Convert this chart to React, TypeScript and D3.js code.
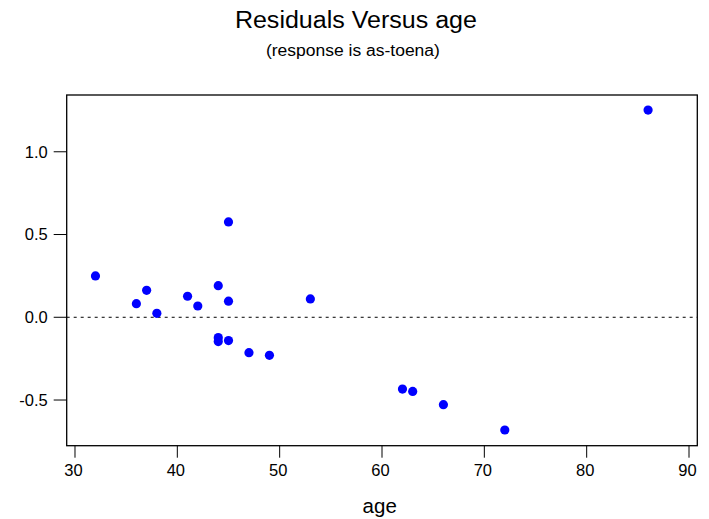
import React from "react";
import * as d3 from "d3";

const ages = [32, 36, 37, 38, 41, 42, 44, 44, 44, 45, 45, 45, 47, 49, 53, 62, 63, 66, 72, 86];
const residuals = [0.25, 0.082, 0.163, 0.024, 0.127, 0.068, 0.191, -0.123, -0.147, 0.576, 0.097, -0.141, -0.214, -0.23, 0.111, -0.434, -0.448, -0.528, -0.681, 1.252];
const xTicks = [30, 40, 50, 60, 70, 80, 90];
const yTicks = [-0.5, 0.0, 0.5, 1.0];
const title = "Residuals Versus age";
const subtitle = "(response is as-toena)";
const xLabel = "age";

const W = 709;
const H = 519;
const L = 66.7, R = 697.3, T = 95, B = 445.7;

export default function App() {
  const x = d3.scaleLinear().domain([29.19, 90.81]).range([L, R]);
  const y = d3.scaleLinear().domain([-0.776, 1.343]).range([B, T]);
  const font = "'Liberation Sans', Arial, sans-serif";
  return (
    <svg width={W} height={H} style={{ position: "absolute", left: 0, top: 0, background: "#fff" }} fontFamily={font}>
      <rect x={0} y={0} width={W} height={H} fill="#fff" />
      <text x={355.9} y={28.3} textAnchor="middle" fontSize={23} fill="#000" textLength={242} lengthAdjust="spacingAndGlyphs">{title}</text>
      <text x={352.9} y={55.5} textAnchor="middle" fontSize={16} fill="#000" textLength={174} lengthAdjust="spacingAndGlyphs">{subtitle}</text>
      <rect x={L} y={T} width={R - L} height={B - T} fill="none" stroke="#000" strokeWidth={1.3} />
      <line x1={L} x2={R} y1={y(0)} y2={y(0)} stroke="#000" strokeWidth={1} strokeDasharray="3,4" />
      {yTicks.map((t) => (
        <g key={"y" + t}>
          <line x1={L - 13} x2={L} y1={y(t)} y2={y(t)} stroke="#000" strokeWidth={1} />
          <text x={47.7} y={y(t) + 5.8} textAnchor="end" fontSize={16.5} fill="#000">{t.toFixed(1)}</text>
        </g>
      ))}
      {xTicks.map((t) => (
        <g key={"x" + t}>
          <line x1={x(t)} x2={x(t)} y1={B} y2={B + 12} stroke="#000" strokeWidth={1} />
          <text x={x(t) - 1.5} y={475.7} textAnchor="middle" fontSize={16.5} fill="#000">{t}</text>
        </g>
      ))}
      <text x={379.7} y={513.3} textAnchor="middle" fontSize={20.5} fill="#000">{xLabel}</text>
      {ages.map((a, i) => (
        <circle key={i} cx={x(a)} cy={y(residuals[i])} r={4.6} fill="#0000ff" />
      ))}
    </svg>
  );
}
